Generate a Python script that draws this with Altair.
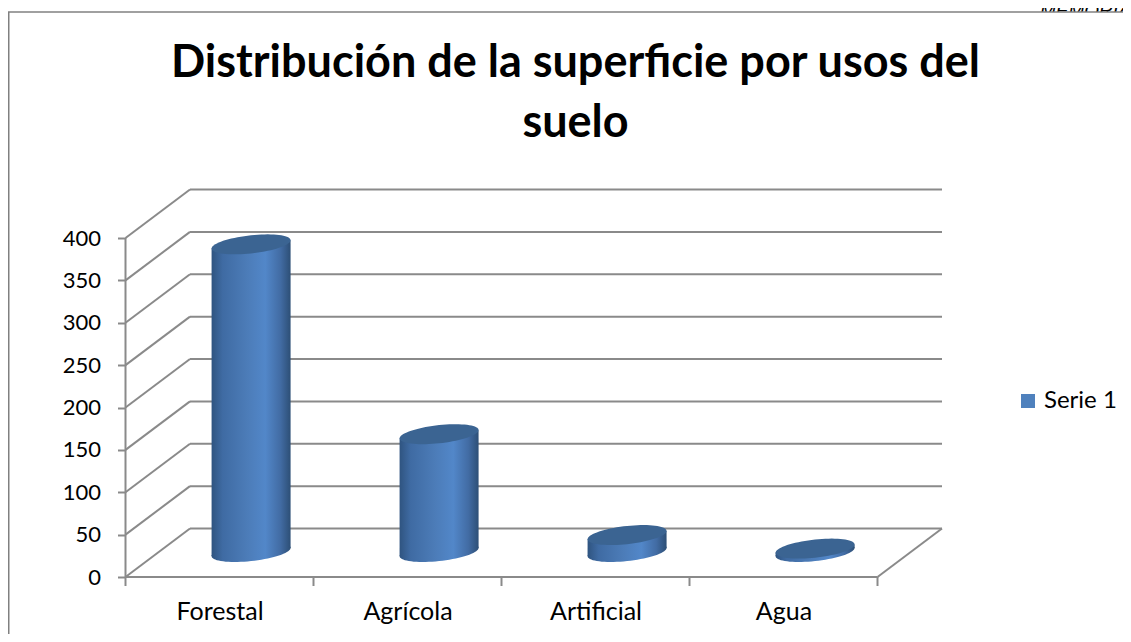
import altair as alt
import numpy as np
import pandas as pd

title_lines = ["Distribución de la superficie por usos del", "suelo"]
categories = ["Forestal", "Agrícola", "Artificial", "Agua"]
values = [363, 139, 20, 4]
y_ticks = [0, 50, 100, 150, 200, 250, 300, 350, 400]
x_ticks = [0, 1, 2, 3, 4]
series_name = "Serie 1"
page_note = "MEMORIA"

W, H = 1115, 626
PX_X, PX_Y = 188.0, 339.0 / 400
X0, Y0 = 125.5, 577.0            # page position of the chart origin
x_dom = [(8 - X0) / PX_X, (8 + W - X0) / PX_X]
y_dom = [(Y0 - 8 - H) / PX_Y, (Y0 - 8) / PX_Y]
DX, DY = 64.5 / PX_X, 48.5 / PX_Y  # depth of the 3D box
BASE = 25 / PX_Y                 # cylinder base height on the floor
HALF = 39.5 / PX_X               # cylinder half width
TILT = 4 / PX_Y
CX = 0.668

grid_col = "#8a8a8a"
x_scale = alt.Scale(domain=x_dom, nice=False, zero=False)
y_scale = alt.Scale(domain=y_dom, nice=False, zero=False)
X = alt.X("x:Q", scale=x_scale, title=None,
          axis=alt.Axis(values=[i + 0.5 for i in range(4)], offset=-(8 + H - Y0), zindex=1,
                        labelExpr="['Forestal','Agrícola','Artificial','Agua'][floor(datum.value)]",
                        domain=False, ticks=False, grid=False, labelFont="Lato", labelFontSize=25,
                        labelColor="#000000", labelPadding=22, labelFlush=False, labelOverlap=False))
Y = alt.Y("y:Q", scale=y_scale, title=None, stack=None,
          axis=alt.Axis(values=y_ticks, offset=-(X0 - 8), zindex=1, domain=False, grid=False, tickSize=8,
                        tickColor=grid_col, tickWidth=2, labelFont="Lato", labelFontSize=22,
                        labelColor="#000000", labelPadding=17, labelFlush=False, labelOverlap=False))


def segs(rows):
    return pd.DataFrame(rows, columns=["x", "y", "x2", "y2"])


lines = []
for v in y_ticks:
    lines.append((DX, v + DY, 4 + DX, v + DY))   # back wall
    lines.append((0, v, DX, v + DY))             # side wall
lines.append((0, 0, 0, 400))                     # value axis line
lines.append((0, 0, 4, 0))                       # front floor edge
lines.append((4, 0, 4 + DX, DY))                 # right floor edge
for t in x_ticks:
    lines.append((t, 0, t, -9 / PX_Y))           # category ticks


def seg_layer(df, color=grid_col, width=2):
    return alt.Chart(df).mark_rule(color=color, strokeWidth=width).encode(x=X, x2="x2:Q", y=Y, y2="y2:Q")


note = alt.Chart(pd.DataFrame({"x": [(1040 - X0) / PX_X], "y": [(Y0 - 17) / PX_Y], "t": [page_note]})).mark_text(
    font="Liberation Sans", fontStyle="italic", fontSize=19, align="left", baseline="alphabetic", color="#000000"
).encode(x=X, y=Y, text="t:N")

top_border = (Y0 - 12) / PX_Y
paper = alt.Chart(segs([(x_dom[0], top_border, x_dom[1], y_dom[0])])).mark_rect(color="#ffffff").encode(
    x=X, x2="x2:Q", y=Y, y2="y2:Q")
border = seg_layer(segs([(x_dom[0], top_border, x_dom[1], top_border),
                         (x_dom[0] + 0.004, top_border, x_dom[0] + 0.004, y_dom[0])]), "#808080", 1.5)

grid = seg_layer(segs(lines))

body_rows = []
for i, (c, v) in enumerate(zip(categories, values)):
    cx = i + CX
    body_rows.append({"cat": c, "x": cx - HALF, "y": BASE + v - TILT, "y0": BASE - TILT})
    body_rows.append({"cat": c, "x": cx + HALF, "y": BASE + v + TILT, "y0": BASE + TILT})
body_df = pd.DataFrame(body_rows)
caps_top = pd.DataFrame({"x": [i + CX for i in range(4)], "y": [BASE + v for v in values]})
caps_bot = pd.DataFrame({"x": [i + CX for i in range(4)], "y": [BASE] * 4})

gradient = alt.Gradient(
    gradient="linear", x1=0, x2=1, y1=0, y2=0,
    stops=[
        alt.GradientStop(offset=0.0, color="#2f5480"),
        alt.GradientStop(offset=0.14, color="#3f6ba3"),
        alt.GradientStop(offset=0.45, color="#4c7cb8"),
        alt.GradientStop(offset=0.68, color="#5287c9"),
        alt.GradientStop(offset=0.87, color="#426ca4"),
        alt.GradientStop(offset=1.0, color="#2d4f76"),
    ])

t = np.linspace(0, 2 * np.pi, 73)[:-1]
kx, ky, my = 1.0, 0.105, 0.23
ellipse = "M" + " L".join(f"{kx*np.cos(a):.4f} {-ky*np.cos(a) - my*np.sin(a):.4f}" for a in t) + " Z"
size = (2 * 39.5) ** 2

bottom = alt.Chart(caps_bot).mark_point(shape=ellipse, filled=True, size=size, fill=gradient, opacity=1, strokeWidth=0).encode(x=X, y=Y)
body = alt.Chart(body_df).mark_area(fill=gradient, opacity=1, line=False, interpolate="linear").encode(
    x=X, y=Y, y2="y0:Q", detail="cat:N")
top = alt.Chart(caps_top).mark_point(shape=ellipse, filled=True, size=size, color="#3b6492", opacity=1, strokeWidth=0).encode(x=X, y=Y)

legend = alt.Chart(pd.DataFrame({"x": [0], "y": [0], "s": [series_name]})).mark_square(size=0, opacity=0).encode(
    x=X, y=Y,
    color=alt.Color("s:N", scale=alt.Scale(domain=[series_name], range=["#4f81bd"]),
                    legend=alt.Legend(orient="none", legendX=1008, legendY=381, title=None, padding=0,
                                      symbolType="square", symbolSize=196, symbolOpacity=1, symbolStrokeWidth=0,
                                      labelFont="Lato", labelFontSize=24, labelColor="#000000", labelOffset=4)))

chart = alt.layer(note, paper, border, grid, bottom, body, top, legend).properties(
    width=W, height=H, padding=0, background="#ffffff", autosize=alt.AutoSizeParams(type="none"),
    title=alt.TitleParams(text=title_lines, font="Lato", fontSize=45, fontWeight="bold", color="#000000",
                          lineHeight=60, anchor="middle", frame="group", offset=-144, dx=10)
).configure_view(stroke=None)

chart.save("out.html", embed_options={"renderer": "svg", "actions": False})
